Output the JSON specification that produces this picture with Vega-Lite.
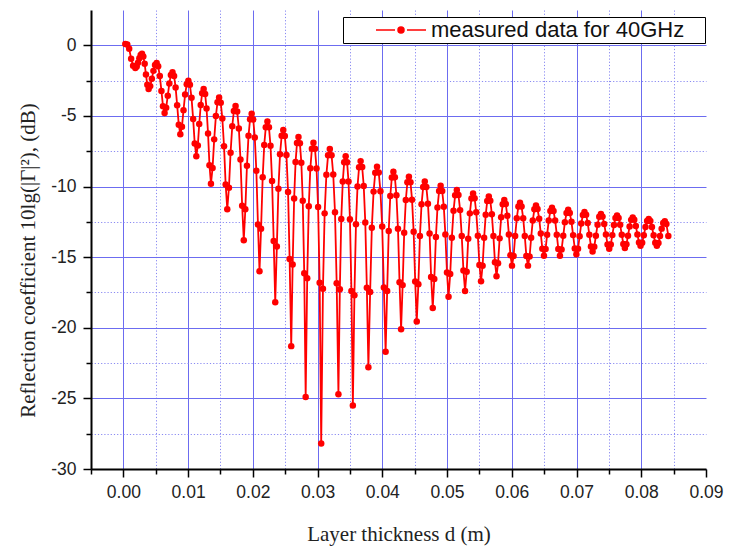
{
  "$schema": "https://vega.github.io/schema/vega-lite/v6.json",
  "width": 615,
  "height": 459,
  "autosize": {"type": "none"},
  "padding": {"left": 91, "top": 10, "right": 24, "bottom": 79},
  "background": "white",
  "config": {
    "view": {"stroke": null},
    "axis": {
      "domainColor": "#000",
      "domainWidth": 2,
      "tickColor": "#000",
      "tickWidth": 1.5,
      "labelFont": "Liberation Sans",
      "labelFontSize": 17.5,
      "labelColor": "#222",
      "titleFont": "Liberation Serif",
      "titleFontSize": 21,
      "titleFontWeight": "normal",
      "titleColor": "#222",
      "gridWidth": 1
    }
  },
  "data": {"values": [
    {"d":0.0003,"r":0.1},{"d":0.0006,"r":0.05},{"d":0.0009,"r":-0.25},{"d":0.0012,"r":-0.95},{"d":0.0015,"r":-1.45},
    {"d":0.00185,"r":-1.6},{"d":0.00206,"r":-1.5},{"d":0.00226,"r":-1.23},{"d":0.00247,"r":-0.92},{"d":0.00267,"r":-0.69},{"d":0.00288,"r":-0.6},{"d":0.00308,"r":-0.79},{"d":0.00329,"r":-1.31},{"d":0.00349,"r":-2.07},{"d":0.0037,"r":-2.79},
    {"d":0.0039,"r":-3.1},{"d":0.00415,"r":-2.89},{"d":0.0044,"r":-2.37},{"d":0.00464,"r":-1.81},{"d":0.00489,"r":-1.4},{"d":0.00514,"r":-1.25},{"d":0.00538,"r":-1.49},{"d":0.00563,"r":-2.18},{"d":0.00588,"r":-3.23},{"d":0.00612,"r":-4.31},
    {"d":0.00637,"r":-4.8},{"d":0.00661,"r":-4.42},{"d":0.00686,"r":-3.57},{"d":0.0071,"r":-2.7},{"d":0.00734,"r":-2.11},{"d":0.00759,"r":-1.9},{"d":0.00783,"r":-2.17},{"d":0.00807,"r":-2.98},{"d":0.00831,"r":-4.24},{"d":0.00856,"r":-5.63},
    {"d":0.0088,"r":-6.3},{"d":0.00905,"r":-5.76},{"d":0.00929,"r":-4.59},{"d":0.00954,"r":-3.48},{"d":0.00979,"r":-2.75},{"d":0.01004,"r":-2.5},{"d":0.01028,"r":-2.8},{"d":0.01053,"r":-3.72},{"d":0.01078,"r":-5.21},{"d":0.01102,"r":-6.95},
    {"d":0.01127,"r":-7.85},{"d":0.0115,"r":-7.1},{"d":0.01172,"r":-5.58},{"d":0.01195,"r":-4.23},{"d":0.01217,"r":-3.39},{"d":0.0124,"r":-3.1},{"d":0.01263,"r":-3.44},{"d":0.01285,"r":-4.48},{"d":0.01308,"r":-6.24},{"d":0.0133,"r":-8.49},
    {"d":0.01353,"r":-9.8},{"d":0.01378,"r":-8.68},{"d":0.01403,"r":-6.66},{"d":0.01429,"r":-5.01},{"d":0.01454,"r":-4.03},{"d":0.01479,"r":-3.7},{"d":0.01504,"r":-4.06},{"d":0.01529,"r":-5.18},{"d":0.01555,"r":-7.15},{"d":0.0158,"r":-9.86},
    {"d":0.01605,"r":-11.6},{"d":0.01631,"r":-10.09},{"d":0.01656,"r":-7.6},{"d":0.01682,"r":-5.73},{"d":0.01707,"r":-4.65},{"d":0.01733,"r":-4.3},{"d":0.01758,"r":-4.69},{"d":0.01784,"r":-5.89},{"d":0.01809,"r":-8.08},{"d":0.01835,"r":-11.36},
    {"d":0.0186,"r":-13.8},{"d":0.01884,"r":-11.61},{"d":0.01909,"r":-8.53},{"d":0.01933,"r":-6.41},{"d":0.01957,"r":-5.23},{"d":0.01982,"r":-4.85},{"d":0.02006,"r":-5.25},{"d":0.0203,"r":-6.52},{"d":0.02054,"r":-8.88},{"d":0.02079,"r":-12.68},
    {"d":0.02103,"r":-16.0},{"d":0.02127,"r":-12.99},{"d":0.02152,"r":-9.35},{"d":0.02176,"r":-7.05},{"d":0.022,"r":-5.8},{"d":0.02225,"r":-5.4},{"d":0.02249,"r":-5.81},{"d":0.02273,"r":-7.12},{"d":0.02297,"r":-9.6},{"d":0.02322,"r":-13.85},
    {"d":0.02346,"r":-18.2},{"d":0.02371,"r":-14.24},{"d":0.02395,"r":-10.15},{"d":0.0242,"r":-7.71},{"d":0.02445,"r":-6.41},{"d":0.0247,"r":-6.0},{"d":0.02494,"r":-6.42},{"d":0.02519,"r":-7.77},{"d":0.02544,"r":-10.38},{"d":0.02568,"r":-15.13},
    {"d":0.02593,"r":-21.3},{"d":0.02615,"r":-15.52},{"d":0.02638,"r":-10.85},{"d":0.0266,"r":-8.27},{"d":0.02682,"r":-6.92},{"d":0.02705,"r":-6.5},{"d":0.02727,"r":-6.93},{"d":0.02749,"r":-8.31},{"d":0.02771,"r":-11.0},{"d":0.02794,"r":-16.14},
    {"d":0.02816,"r":-24.9},{"d":0.0284,"r":-16.49},{"d":0.02864,"r":-11.39},{"d":0.02888,"r":-8.71},{"d":0.02912,"r":-7.33},{"d":0.02936,"r":-6.9},{"d":0.0296,"r":-7.33},{"d":0.02984,"r":-8.72},{"d":0.03008,"r":-11.45},{"d":0.03032,"r":-16.81},
    {"d":0.03056,"r":-28.2},{"d":0.03083,"r":-17.23},{"d":0.03109,"r":-11.9},{"d":0.03136,"r":-9.17},{"d":0.03162,"r":-7.78},{"d":0.03189,"r":-7.35},{"d":0.03216,"r":-7.78},{"d":0.03242,"r":-9.15},{"d":0.03269,"r":-11.82},{"d":0.03295,"r":-16.85},
    {"d":0.03322,"r":-24.7},{"d":0.03344,"r":-17.27},{"d":0.03366,"r":-12.3},{"d":0.03389,"r":-9.65},{"d":0.03411,"r":-8.28},{"d":0.03434,"r":-7.85},{"d":0.03456,"r":-8.28},{"d":0.03478,"r":-9.65},{"d":0.035,"r":-12.32},{"d":0.03523,"r":-17.39},
    {"d":0.03545,"r":-25.5},{"d":0.03569,"r":-17.7},{"d":0.03593,"r":-12.67},{"d":0.03617,"r":-10.0},{"d":0.03641,"r":-8.63},{"d":0.03665,"r":-8.2},{"d":0.03689,"r":-8.62},{"d":0.03713,"r":-9.96},{"d":0.03737,"r":-12.54},{"d":0.03761,"r":-17.17},
    {"d":0.03785,"r":-22.8},{"d":0.03812,"r":-17.46},{"d":0.03838,"r":-12.91},{"d":0.03865,"r":-10.36},{"d":0.03891,"r":-9.02},{"d":0.03918,"r":-8.6},{"d":0.03945,"r":-9.01},{"d":0.03971,"r":-10.33},{"d":0.03998,"r":-12.83},{"d":0.04024,"r":-17.15},
    {"d":0.04051,"r":-21.7},{"d":0.04075,"r":-17.4},{"d":0.04099,"r":-13.15},{"d":0.04123,"r":-10.67},{"d":0.04147,"r":-9.36},{"d":0.04171,"r":-8.95},{"d":0.04194,"r":-9.35},{"d":0.04218,"r":-10.62},{"d":0.04242,"r":-12.98},{"d":0.04266,"r":-16.78},
    {"d":0.0429,"r":-20.1},{"d":0.04314,"r":-16.98},{"d":0.04338,"r":-13.28},{"d":0.04363,"r":-10.95},{"d":0.04387,"r":-9.7},{"d":0.04411,"r":-9.3},{"d":0.04435,"r":-9.69},{"d":0.04459,"r":-10.93},{"d":0.04484,"r":-13.2},{"d":0.04508,"r":-16.73},
    {"d":0.04532,"r":-19.55},{"d":0.04557,"r":-16.91},{"d":0.04581,"r":-13.5},{"d":0.04606,"r":-11.26},{"d":0.04631,"r":-10.04},{"d":0.04656,"r":-9.65},{"d":0.0468,"r":-10.03},{"d":0.04705,"r":-11.21},{"d":0.0473,"r":-13.33},{"d":0.04754,"r":-16.41},
    {"d":0.04779,"r":-18.6},{"d":0.04803,"r":-16.55},{"d":0.04828,"r":-13.57},{"d":0.04852,"r":-11.49},{"d":0.04877,"r":-10.32},{"d":0.04901,"r":-9.95},{"d":0.04925,"r":-10.31},{"d":0.0495,"r":-11.43},{"d":0.04974,"r":-13.39},{"d":0.04999,"r":-16.08},
    {"d":0.05023,"r":-17.8},{"d":0.05049,"r":-16.19},{"d":0.05074,"r":-13.62},{"d":0.051,"r":-11.71},{"d":0.05125,"r":-10.61},{"d":0.05151,"r":-10.25},{"d":0.05176,"r":-10.6},{"d":0.05202,"r":-11.67},{"d":0.05227,"r":-13.51},{"d":0.05253,"r":-15.94},
    {"d":0.05278,"r":-17.4},{"d":0.05303,"r":-16.03},{"d":0.05327,"r":-13.69},{"d":0.05352,"r":-11.9},{"d":0.05377,"r":-10.84},{"d":0.05402,"r":-10.5},{"d":0.05426,"r":-10.83},{"d":0.05451,"r":-11.82},{"d":0.05476,"r":-13.49},{"d":0.055,"r":-15.55},
    {"d":0.05525,"r":-16.7},{"d":0.05549,"r":-15.61},{"d":0.05573,"r":-13.63},{"d":0.05597,"r":-12.0},{"d":0.05621,"r":-11.02},{"d":0.05645,"r":-10.7},{"d":0.05668,"r":-11.01},{"d":0.05692,"r":-11.96},{"d":0.05716,"r":-13.51},{"d":0.0574,"r":-15.36},
    {"d":0.05764,"r":-16.35},{"d":0.05788,"r":-15.43},{"d":0.05812,"r":-13.67},{"d":0.05836,"r":-12.17},{"d":0.0586,"r":-11.25},{"d":0.05884,"r":-10.95},{"d":0.05907,"r":-11.23},{"d":0.05931,"r":-12.07},{"d":0.05955,"r":-13.39},{"d":0.05979,"r":-14.87},
    {"d":0.06003,"r":-15.6},{"d":0.06028,"r":-14.92},{"d":0.06052,"r":-13.51},{"d":0.06077,"r":-12.24},{"d":0.06102,"r":-11.42},{"d":0.06127,"r":-11.15},{"d":0.06151,"r":-11.42},{"d":0.06176,"r":-12.24},{"d":0.06201,"r":-13.51},{"d":0.06225,"r":-14.92},
    {"d":0.0625,"r":-15.6},{"d":0.06275,"r":-14.96},{"d":0.06299,"r":-13.63},{"d":0.06324,"r":-12.41},{"d":0.06349,"r":-11.61},{"d":0.06374,"r":-11.35},{"d":0.06398,"r":-11.59},{"d":0.06423,"r":-12.28},{"d":0.06448,"r":-13.33},{"d":0.06472,"r":-14.41},
    {"d":0.06497,"r":-14.9},{"d":0.06522,"r":-14.43},{"d":0.06546,"r":-13.41},{"d":0.06571,"r":-12.4},{"d":0.06596,"r":-11.73},{"d":0.06621,"r":-11.5},{"d":0.06645,"r":-11.73},{"d":0.0667,"r":-12.4},{"d":0.06695,"r":-13.41},{"d":0.06719,"r":-14.43},
    {"d":0.06744,"r":-14.9},{"d":0.06769,"r":-14.46},{"d":0.06795,"r":-13.49},{"d":0.0682,"r":-12.52},{"d":0.06846,"r":-11.87},{"d":0.06871,"r":-11.65},{"d":0.06896,"r":-11.87},{"d":0.06922,"r":-12.5},{"d":0.06947,"r":-13.44},{"d":0.06973,"r":-14.38},
    {"d":0.06998,"r":-14.8},{"d":0.07023,"r":-14.41},{"d":0.07048,"r":-13.52},{"d":0.07073,"r":-12.62},{"d":0.07098,"r":-12.01},{"d":0.07123,"r":-11.8},{"d":0.07148,"r":-12.0},{"d":0.07173,"r":-12.58},{"d":0.07198,"r":-13.42},{"d":0.07223,"r":-14.24},
    {"d":0.07248,"r":-14.6},{"d":0.07274,"r":-14.26},{"d":0.07299,"r":-13.49},{"d":0.07325,"r":-12.7},{"d":0.07351,"r":-12.14},{"d":0.07377,"r":-11.95},{"d":0.07402,"r":-12.13},{"d":0.07428,"r":-12.65},{"d":0.07454,"r":-13.39},{"d":0.07479,"r":-14.1},
    {"d":0.07505,"r":-14.4},{"d":0.07529,"r":-14.11},{"d":0.07553,"r":-13.44},{"d":0.07578,"r":-12.73},{"d":0.07602,"r":-12.22},{"d":0.07626,"r":-12.05},{"d":0.0765,"r":-12.22},{"d":0.07674,"r":-12.71},{"d":0.07699,"r":-13.41},{"d":0.07723,"r":-14.07},
    {"d":0.07747,"r":-14.35},{"d":0.07771,"r":-14.09},{"d":0.07795,"r":-13.48},{"d":0.0782,"r":-12.83},{"d":0.07844,"r":-12.36},{"d":0.07868,"r":-12.2},{"d":0.07892,"r":-12.35},{"d":0.07916,"r":-12.79},{"d":0.07941,"r":-13.4},{"d":0.07965,"r":-13.96},
    {"d":0.07989,"r":-14.2},{"d":0.08014,"r":-13.98},{"d":0.08039,"r":-13.45},{"d":0.08065,"r":-12.87},{"d":0.0809,"r":-12.44},{"d":0.08115,"r":-12.3},{"d":0.0814,"r":-12.44},{"d":0.08165,"r":-12.87},{"d":0.08191,"r":-13.45},{"d":0.08216,"r":-13.98},
    {"d":0.08241,"r":-14.2},{"d":0.08266,"r":-14.0},{"d":0.0829,"r":-13.51},{"d":0.08315,"r":-12.98},{"d":0.08339,"r":-12.58},{"d":0.08364,"r":-12.45},{"d":0.08388,"r":-12.65},{"d":0.08418,"r":-13.5}
  ]},
  "encoding": {
    "x": {
      "field": "d",
      "type": "quantitative",
      "scale": {"domain": [-0.005, 0.09], "nice": false, "zero": false},
      "axis": {
        "title": "Layer thickness d (m)",
        "values": [-0.005, 0, 0.005, 0.01, 0.015, 0.02, 0.025, 0.03, 0.035, 0.04, 0.045, 0.05, 0.055, 0.06, 0.065, 0.07, 0.075, 0.08, 0.085, 0.09],
        "labelExpr": "abs(round(datum.value*200)) % 2 === 0 ? format(datum.value, '.2f') : ''",
        "labelPadding": 6,
        "labelFlush": false,
        "labelOverlap": false,
        "tickSize": {"condition": {"test": "abs(round(datum.value*200)) % 2 === 1", "value": 5}, "value": 8},
        "gridColor": {"condition": {"test": "abs(round(datum.value*200)) % 2 === 1", "value": "#8a8af2"}, "value": "#6c6cf0"},
        "gridDash": {"condition": {"test": "abs(round(datum.value*200)) % 2 === 1", "value": [1.2, 2]}, "value": []},
        "gridOpacity": {"condition": {"test": "datum.value < 0 || datum.value > 0.0875", "value": 0}, "value": 1},
        "titlePadding": 23
      }
    },
    "y": {
      "field": "r",
      "type": "quantitative",
      "scale": {"domain": [-30, 2.5], "nice": false, "zero": false},
      "axis": {
        "title": "Reflection coefficient 10lg(|Γ|²), (dB)",
        "values": [-30, -27.5, -25, -22.5, -20, -17.5, -15, -12.5, -10, -7.5, -5, -2.5, 0],
        "labelExpr": "datum.value % 5 === 0 ? '' + datum.value : ''",
        "labelPadding": 7,
        "labelOverlap": false,
        "labelFlush": false,
        "tickSize": {"condition": {"test": "datum.value % 5 !== 0", "value": 5}, "value": 8},
        "gridColor": {"condition": {"test": "datum.value % 5 !== 0", "value": "#8a8af2"}, "value": "#6c6cf0"},
        "gridDash": {"condition": {"test": "datum.value % 5 !== 0", "value": [1.2, 2]}, "value": []},
        "titlePadding": 12,
        "titleY": 250
      }
    }
  },
  "layer": [
    {
      "mark": {"type": "line", "color": "#ff0000", "strokeWidth": 1.8}
    },
    {
      "mark": {"type": "point", "filled": true, "size": 42, "opacity": 1, "shape": "circle"},
      "encoding": {
        "color": {
          "datum": "measured data for 40GHz",
          "scale": {"range": ["#ff0000"]},
          "legend": {
            "title": null,
            "orient": "none",
            "legendX": 252,
            "legendY": 7,
            "symbolType": "M-2.5,0H-0.6M0.6,0H2.5M0.3,0A0.3,0.3,0,1,1,-0.3,0A0.3,0.3,0,1,1,0.3,0Z",
            "symbolSize": 400,
            "symbolStrokeWidth": 1.5,
            "symbolStrokeColor": "#ff0000",
            "symbolFillColor": "#ff0000",
            "symbolOpacity": 1,
            "symbolOffset": 45,
            "labelOffset": 19,
            "labelLimit": 600,
            "labelFont": "Liberation Sans",
            "labelFontSize": 22,
            "labelColor": "#111",
            "labelExpr": "datum.label + '\u00a0\u00a0\u00a0\u200b'",
            "strokeColor": "#000",
            "fillColor": "#fff",
            "padding": 2
          }
        }
      }
    }
  ]
}
